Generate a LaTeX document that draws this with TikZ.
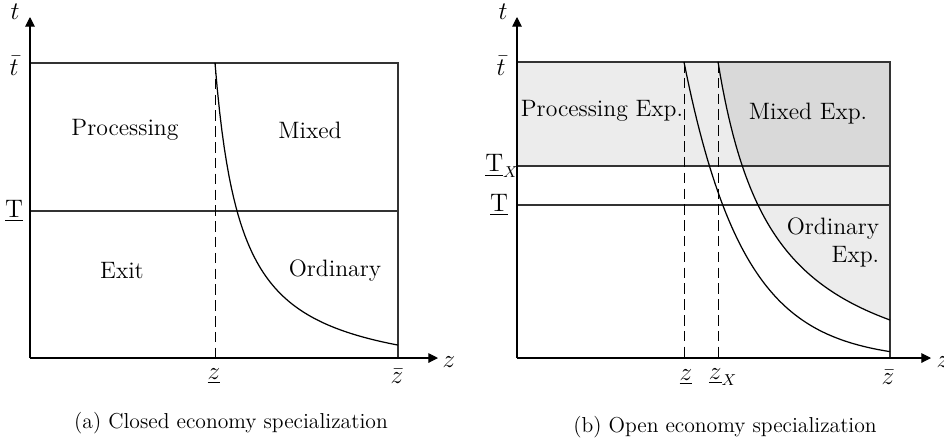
\documentclass[tikz,border=0pt]{standalone}
\usepackage{amsmath, amssymb}
\usetikzlibrary{arrows.meta}

\begin{document}
\begin{tikzpicture}[x=0.02cm, y=-0.02cm, font=\fontsize{13.5}{16}\selectfont,
    axis/.style={-{Triangle[length=5.5pt, width=5.5pt]}, line width=0.6pt},
    box/.style={line width=0.6pt, black!80},
    guide/.style={dash pattern=on 6pt off 3pt, line width=0.5pt},
    curve/.style={line width=0.7pt},
    every node/.style={inner sep=1pt}]
    \useasboundingbox (0,0) rectangle (944,441);

    % (a) closed economy
    \draw[box] (30,63) -- (398,63) -- (398,358);
    \draw[box] (30,211) -- (398,211);
    \draw[guide] (215,63) -- (215,358);
    \draw[curve] plot[domain=215:398, samples=80] (\x, {385 - 83.36/((\x-189.1)*0.01)});
    \draw[axis] (30,358) -- (438,358);
    \draw[axis] (30,358) -- (30,17);

    \node (ta) at (15,12) {$t$};
    \node (za) at (449,362) {$z$};
    \node (tbara) at (14,66) {$\bar{t}$};
    \node (Ta) at (14,211) {$\underline{\mathrm{T}}$};
    \node (zlowa) at (214,376) {$\underline{z}$};
    \node (zbara) at (397,376) {$\bar{z}$};

    \node (proc) at (125,130) {Processing};
    \node (mixed) at (310,130) {Mixed};
    \node (exit) at (122,271) {Exit};
    \node (ord) at (335,271) {Ordinary};
    \node[font=\fontsize{12.3}{14}\selectfont] (capa) at (231,423) {(a) Closed economy specialization};

    % (b) open economy
    \fill[gray!15] (517,62) rectangle (890,166);
    \fill[gray!15] plot[domain=742.3:890, samples=60] (\x, {403 - 188.57/((\x-662.7)*0.01)}) -- (890,166) -- cycle;
    \fill[gray!30] plot[domain=718:742.3, samples=30] (\x, {403 - 188.57/((\x-662.7)*0.01)}) -- (890,166) -- (890,62) -- cycle;

    \draw[box] (517,62) -- (890,62) -- (890,358);
    \draw[box] (517,166) -- (890,166);
    \draw[box] (517,205) -- (890,205);
    \draw[guide] (684,62) -- (684,358);
    \draw[guide] (718.5,62) -- (718.5,358);
    \draw[curve] plot[domain=684:890, samples=80] (\x, {361 - 299*exp(-0.0168*(\x-684))});
    \draw[curve] plot[domain=718:890, samples=80] (\x, {403 - 188.57/((\x-662.7)*0.01)});
    \draw[axis] (517,358) -- (931,358);
    \draw[axis] (517,358) -- (517,17);

    \node (tb) at (503,12) {$t$};
    \node (zb) at (943,362) {$z$};
    \node (tbarb) at (501,66) {$\bar{t}$};
    \node (TXb) at (502,166) {$\underline{\mathrm{T}}_X$};
    \node (Tb) at (499,205) {$\underline{\mathrm{T}}$};
    \node (zlowb) at (686,377) {$\underline{z}$};
    \node (zXb) at (723,377) {$\underline{z}_X$};
    \node (zbarb) at (888,377) {$\bar{z}$};

    \node (procx) at (602,111) {Processing Exp.};
    \node (mixedx) at (808,114) {Mixed Exp.};
    \node[align=right] (ordx) at (833,242) {Ordinary\\Exp.};
    \node[font=\fontsize{12.3}{14}\selectfont] (capb) at (725,427) {(b) Open economy specialization};
\end{tikzpicture}
\end{document}
